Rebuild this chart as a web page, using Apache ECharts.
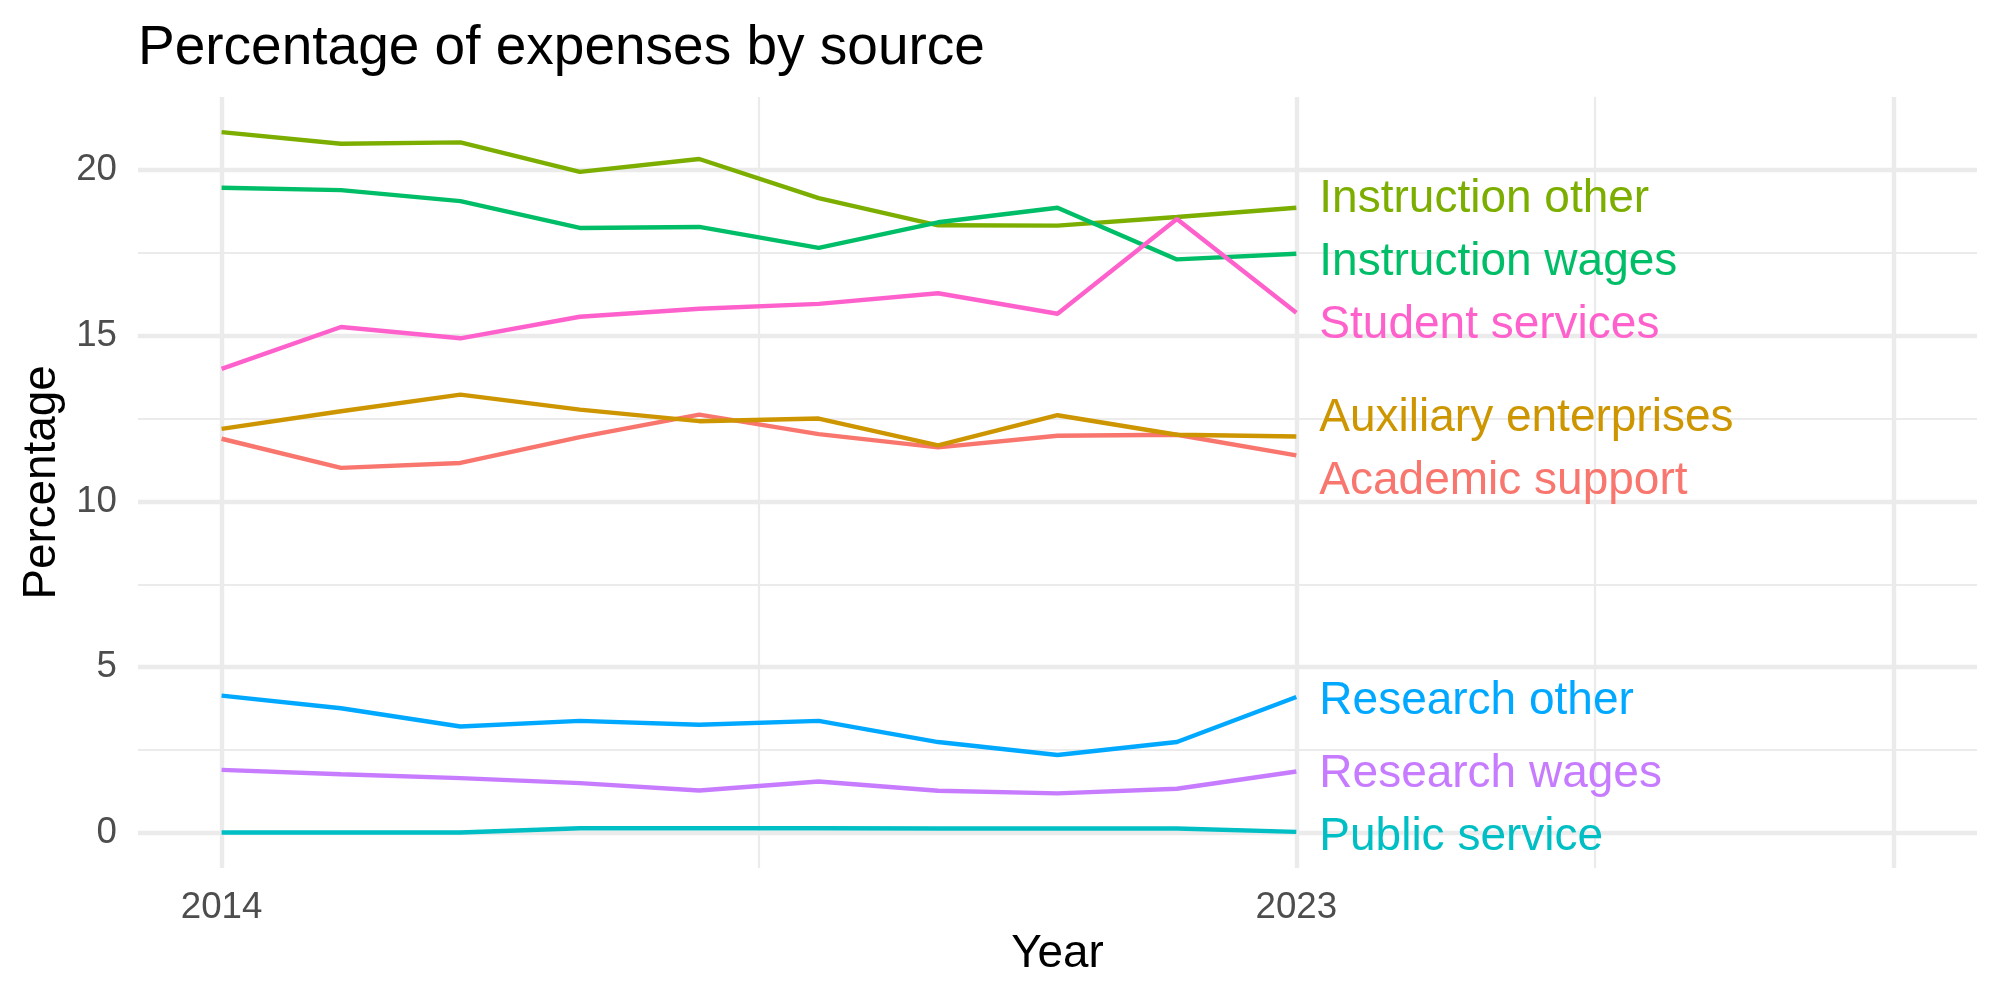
<!DOCTYPE html>
<html><head><meta charset="utf-8">
<script src="https://cdn.jsdelivr.net/npm/echarts@6/dist/echarts.min.js"></script>
<style>html,body{margin:0;padding:0;background:#fff}#c{width:2000px;height:1000px}</style>
</head><body><div id="c"></div>
<script>
// ---- data ----
const years = [2014, 2015, 2016, 2017, 2018, 2019, 2020, 2021, 2022, 2023];
const seriesNames = ['Academic support', 'Auxiliary enterprises', 'Instruction other', 'Instruction wages',
  'Public service', 'Research other', 'Research wages', 'Student services'];
const academicSupport      = [11.89, 11.01, 11.16, 11.94, 12.62, 12.03, 11.63, 11.98, 12.01, 11.39];
const auxiliaryEnterprises = [12.19, 12.72, 13.22, 12.77, 12.42, 12.50, 11.69, 12.60, 12.01, 11.96];
const instructionOther     = [21.14, 20.79, 20.83, 19.94, 20.33, 19.15, 18.33, 18.32, 18.58, 18.86];
const instructionWages     = [19.46, 19.39, 19.06, 18.25, 18.28, 17.65, 18.42, 18.86, 17.30, 17.47];
const publicService        = [0.01, 0.01, 0.01, 0.14, 0.14, 0.14, 0.13, 0.13, 0.13, 0.03];
const researchOther        = [4.14, 3.76, 3.21, 3.38, 3.26, 3.38, 2.74, 2.35, 2.74, 4.10];
const researchWages        = [1.90, 1.77, 1.65, 1.50, 1.28, 1.55, 1.27, 1.19, 1.33, 1.85];
const studentServices      = [14.00, 15.26, 14.92, 15.57, 15.81, 15.96, 16.28, 15.66, 18.52, 15.69];
const seriesValues = [academicSupport, auxiliaryEnterprises, instructionOther, instructionWages,
  publicService, researchOther, researchWages, studentServices];

const xTickLabels = [2014, 2023];
const xMajorBreaks = [2014, 2023, 2028];
const xMinorBreaks = [2018.5, 2025.5];
const yTickLabels = [0, 5, 10, 15, 20];
const yMinorBreaks = [2.5, 7.5, 12.5, 17.5];

// ---- style ----
const colors = ['#F8766D', '#CD9600', '#7CAE00', '#00BE67', '#00BFC4', '#00A9FF', '#C77CFF', '#FF61CC'];
const FONT = '"Liberation Sans", Arial, Helvetica, sans-serif';
const GRID_COLOR = '#EBEBEB';
const X_MIN = 2013.3, X_MAX = 2028.7, Y_MIN = -1.06, Y_MAX = 22.2;
const LABEL_SPACING = 1.9; // min label separation in data units (repel)

// simple 1-D repel of end labels
function repelLabels(ends, d) {
  const order = ends.map((v, i) => ({ i, v })).sort((a, b) => a.v - b.v);
  let clusters = order.map(o => ({ members: [o], center: o.v }));
  const pos = c => c.members.map((m, k) => c.center + (k - (c.members.length - 1) / 2) * d);
  let merged = true;
  while (merged) {
    merged = false;
    for (let k = 0; k < clusters.length - 1; k++) {
      const a = clusters[k], b = clusters[k + 1];
      const topA = pos(a)[a.members.length - 1], botB = pos(b)[0];
      if (topA + d > botB + 1e-9) {
        const members = a.members.concat(b.members);
        clusters.splice(k, 2, { members, center: members.reduce((s, m) => s + m.v, 0) / members.length });
        merged = true;
        break;
      }
    }
  }
  const out = new Array(ends.length);
  clusters.forEach(c => { const p = pos(c); c.members.forEach((m, k) => { out[m.i] = p[k]; }); });
  return out;
}

const lastYear = years[years.length - 1];
const endValues = seriesValues.map(v => v[v.length - 1]);
const labelY = repelLabels(endValues, LABEL_SPACING);

const lineSeries = seriesNames.map((name, s) => ({
  type: 'line', name, xAxisIndex: 0, yAxisIndex: 0,
  data: years.map((yr, i) => [yr, seriesValues[s][i]]),
  symbol: 'none', smooth: false,
  lineStyle: { color: colors[s], width: 4.4 },
  itemStyle: { color: colors[s] },
  z: 3
}));

const labelSeries = {
  type: 'custom', xAxisIndex: 0, yAxisIndex: 0, z: 4, clip: false,
  data: seriesNames.map((n, s) => [lastYear, labelY[s], s]),
  renderItem: (params, api) => {
    const p = api.coord([api.value(0), api.value(1)]);
    const s = api.value(2);
    return {
      type: 'text', x: p[0] + 23, y: p[1] + 4,
      style: { text: seriesNames[s], fill: colors[s], fontSize: 46, fontFamily: FONT,
               align: 'left', verticalAlign: 'middle' }
    };
  }
};

const chart = echarts.init(document.getElementById('c'), null, { renderer: 'canvas' });
chart.setOption({
  backgroundColor: '#ffffff',
  animation: false,
  title: {
    text: 'Percentage of expenses by source', left: 138, top: 21, padding: 0,
    textStyle: { fontSize: 55, fontWeight: 'normal', color: '#000', fontFamily: FONT }
  },
  grid: { left: 138, right: 23, top: 97, bottom: 132, containLabel: false, outerBoundsMode: 'none' },
  xAxis: [
    {
      type: 'value', min: X_MIN, max: X_MAX, position: 'bottom',
      axisLine: { show: false },
      axisTick: { show: false, customValues: xMajorBreaks },
      axisLabel: { customValues: xTickLabels, formatter: v => String(v), color: '#4D4D4D',
                   fontSize: 36.7, fontFamily: FONT, margin: 21 },
      splitLine: { show: true, lineStyle: { color: GRID_COLOR, width: 4.4 } },
      name: 'Year', nameLocation: 'middle', nameGap: 63,
      nameTextStyle: { fontSize: 45.8, color: '#000', fontFamily: FONT }
    },
    {
      type: 'value', min: X_MIN, max: X_MAX, position: 'bottom',
      axisLine: { show: false },
      axisTick: { show: false, customValues: xMinorBreaks },
      axisLabel: { show: false },
      splitLine: { show: true, lineStyle: { color: GRID_COLOR, width: 2.2 } }
    }
  ],
  yAxis: [
    {
      type: 'value', min: Y_MIN, max: Y_MAX,
      axisLine: { show: false },
      axisTick: { show: false, customValues: yTickLabels },
      axisLabel: { customValues: yTickLabels, formatter: v => String(v), color: '#4D4D4D',
                   fontSize: 36.7, fontFamily: FONT, margin: 21 },
      splitLine: { show: true, lineStyle: { color: GRID_COLOR, width: 4.4 } },
      name: 'Percentage', nameLocation: 'middle', nameRotate: 90, nameGap: 72,
      nameTextStyle: { fontSize: 45.8, color: '#000', fontFamily: FONT }
    },
    {
      type: 'value', min: Y_MIN, max: Y_MAX, position: 'left',
      axisLine: { show: false },
      axisTick: { show: false, customValues: yMinorBreaks },
      axisLabel: { show: false },
      splitLine: { show: true, lineStyle: { color: GRID_COLOR, width: 2.2 } }
    }
  ],
  series: lineSeries.concat([labelSeries])
});
</script>
</body></html>
